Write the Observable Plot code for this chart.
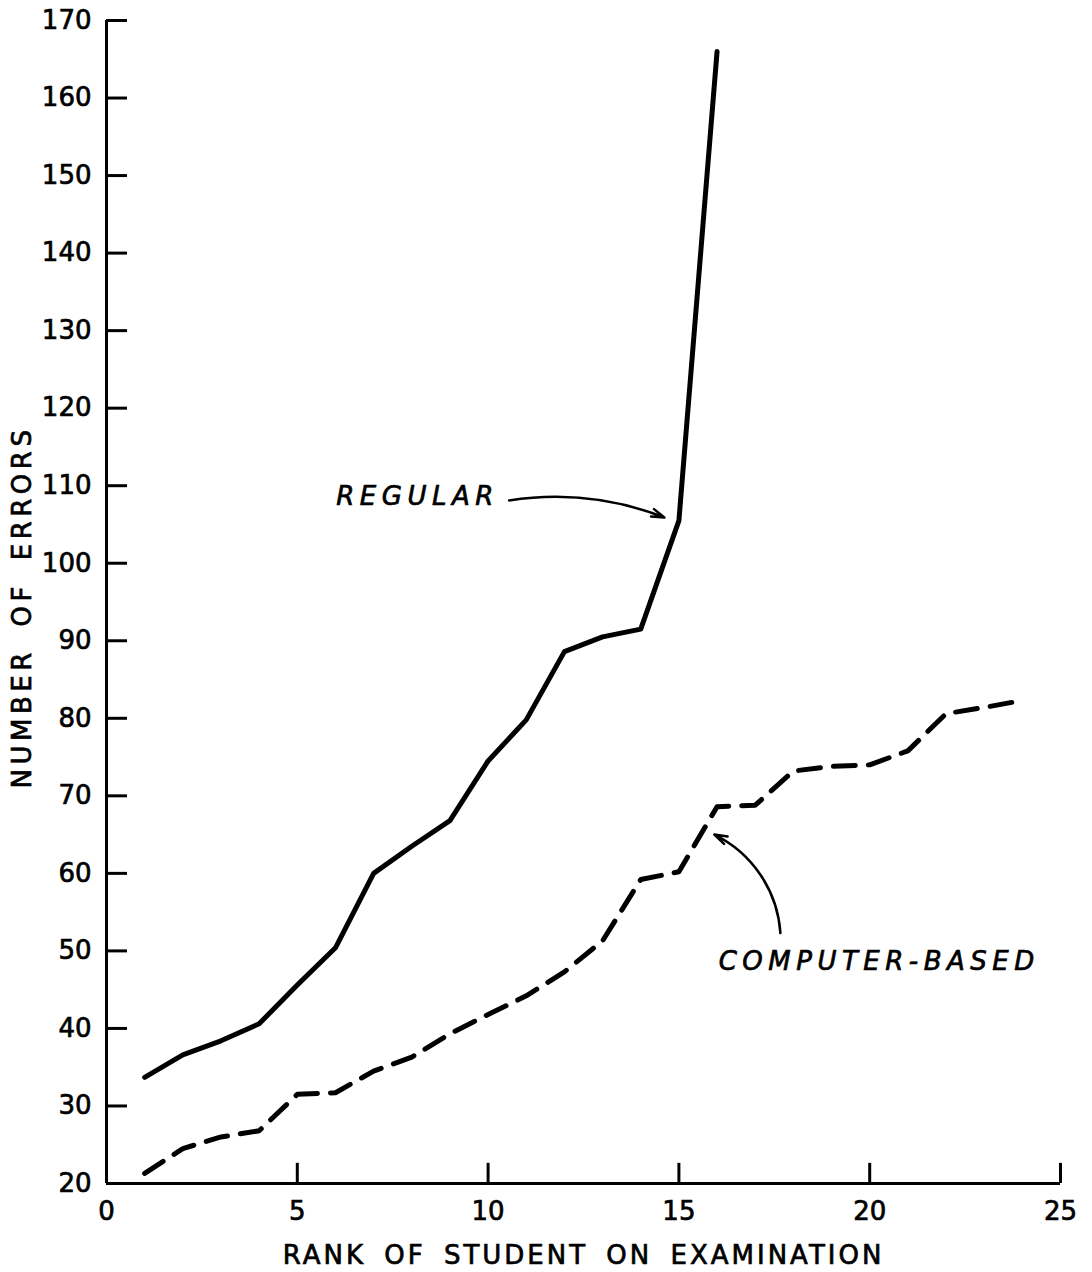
<!DOCTYPE html>
<html>
<head>
<meta charset="utf-8">
<script src="https://cdn.jsdelivr.net/npm/d3@7"></script>
<script src="https://cdn.jsdelivr.net/npm/@observablehq/plot@0.6"></script>
<style>
  html, body { margin: 0; padding: 0; background: #fff; }
  svg { display: block; }
  svg text { stroke: #000; stroke-width: 0.7px; }
</style>
</head>
<body>
<div id="chart"></div>
<script>
// ---- data ----
const regularRank   = [1, 2, 3, 4, 5, 6, 7, 8, 9, 10, 11, 12, 13, 14, 15, 16];
const regularErrors = [33.7, 36.6, 38.4, 40.6, 45.6, 50.4, 60.0, 63.5, 66.8, 74.5, 79.8, 88.6, 90.5, 91.5, 105.5, 166];

const computerRank   = [1, 2, 3, 4, 5, 6, 7, 8, 9, 10, 11, 12, 13, 14, 15, 16, 17, 18, 19, 20, 21, 22, 23, 24];
const computerErrors = [21.3, 24.5, 26.0, 26.8, 31.5, 31.7, 34.5, 36.3, 39.3, 41.8, 44.2, 47.3, 51.3, 59.2, 60.2, 68.6, 68.8, 73.2, 73.8, 74.0, 75.8, 80.6, 81.4, 82.3];

const xTicks = [0, 5, 10, 15, 20, 25];
const yTicks = [20, 30, 40, 50, 60, 70, 80, 90, 100, 110, 120, 130, 140, 150, 160, 170];

const xTitle = "RANK OF STUDENT ON EXAMINATION";
const yTitle = "NUMBER OF ERRORS";

// annotation labels (data coordinates)
const labelNames = ["REGULAR", "COMPUTER-BASED"];
const labelX = [8.15, 20.25];
const labelY = [108.6, 48.6];

// annotation arrows (data coordinates): regular, computer-based
const regularArrow = {x1: 10.55, y1: 108.1, x2: 14.62, y2: 105.9};
const computerArrow = {x1: 17.66, y1: 52.3, x2: 15.93, y2: 65.0};

// ---- tables ----
const regular = regularRank.map((r, i) => ({rank: r, errors: regularErrors[i]}));
const computer = computerRank.map((r, i) => ({rank: r, errors: computerErrors[i]}));
const labels = labelNames.map((t, i) => ({text: t, x: labelX[i], y: labelY[i]}));

const chart = Plot.plot({
  width: 1092,
  height: 1272,
  marginLeft: 106,
  marginRight: 32,
  marginTop: 20,
  marginBottom: 89,
  style: {fontFamily: "DejaVu Sans", fontSize: "26px", color: "#000", background: "#fff"},
  x: {domain: [0, 25]},
  y: {domain: [20, 170]},
  marks: [
    Plot.axisX({ticks: xTicks, tickSize: 0, tickPadding: 18, label: null, tickFormat: d => String(d)}),
    Plot.axisY({ticks: yTicks, tickSize: 0, tickPadding: 15, label: null, tickFormat: d => String(d)}),
    // inward tick marks
    Plot.ruleY(yTicks, {x1: 0, x2: 0.55, stroke: "#000", strokeWidth: 3}),
    Plot.ruleX(xTicks.filter(d => d > 0), {y1: 20, y2: 22.6, stroke: "#000", strokeWidth: 3}),
    // axis lines
    Plot.ruleX([0], {y1: 20, y2: 170, stroke: "#000", strokeWidth: 3}),
    Plot.ruleY([20], {x1: 0, x2: 25, stroke: "#000", strokeWidth: 3}),
    // axis titles
    Plot.text([xTitle], {frameAnchor: "bottom", dy: 80, text: d => d, fontSize: 26, fill: "#000"}),
    Plot.text([yTitle], {frameAnchor: "left", textAnchor: "middle", dx: -84, dy: 5, rotate: -90, text: d => d, fontSize: 26, fill: "#000"}),
    // data lines
    Plot.line(regular, {x: "rank", y: "errors", stroke: "#000", strokeWidth: 5, strokeLinejoin: "round", strokeLinecap: "round"}),
    Plot.line(computer, {x: "rank", y: "errors", stroke: "#000", strokeWidth: 5, strokeDasharray: "22,13", strokeLinejoin: "round", strokeLinecap: "round"}),
    // annotations
    Plot.text(labels, {x: "x", y: "y", text: "text", fontSize: 26, fontStyle: "italic", fill: "#000"}),
    Plot.arrow([regularArrow], {x1: "x1", y1: "y1", x2: "x2", y2: "y2", bend: 15, stroke: "#000", strokeWidth: 2.5, headLength: 8, headAngle: 35}),
    Plot.arrow([computerArrow], {x1: "x1", y1: "y1", x2: "x2", y2: "y2", bend: -30, stroke: "#000", strokeWidth: 2.5, headLength: 8, headAngle: 35})
  ]
});

// letter spacing (Plot's text mark has no option for it)
const spacing = new Map([
  [xTitle, {ls: 3, ws: 7}],
  [yTitle, {ls: 4.5, ws: 9}],
  ["REGULAR", {ls: 5.5, ws: 0}],
  ["COMPUTER-BASED", {ls: 5.5, ws: 0}]
]);
d3.select(chart).selectAll("text").each(function () {
  const s = spacing.get(this.textContent);
  if (s) {
    this.setAttribute("letter-spacing", s.ls);
    if (s.ws) this.setAttribute("word-spacing", s.ws);
  }
});
document.getElementById("chart").appendChild(chart);
</script>
</body>
</html>
